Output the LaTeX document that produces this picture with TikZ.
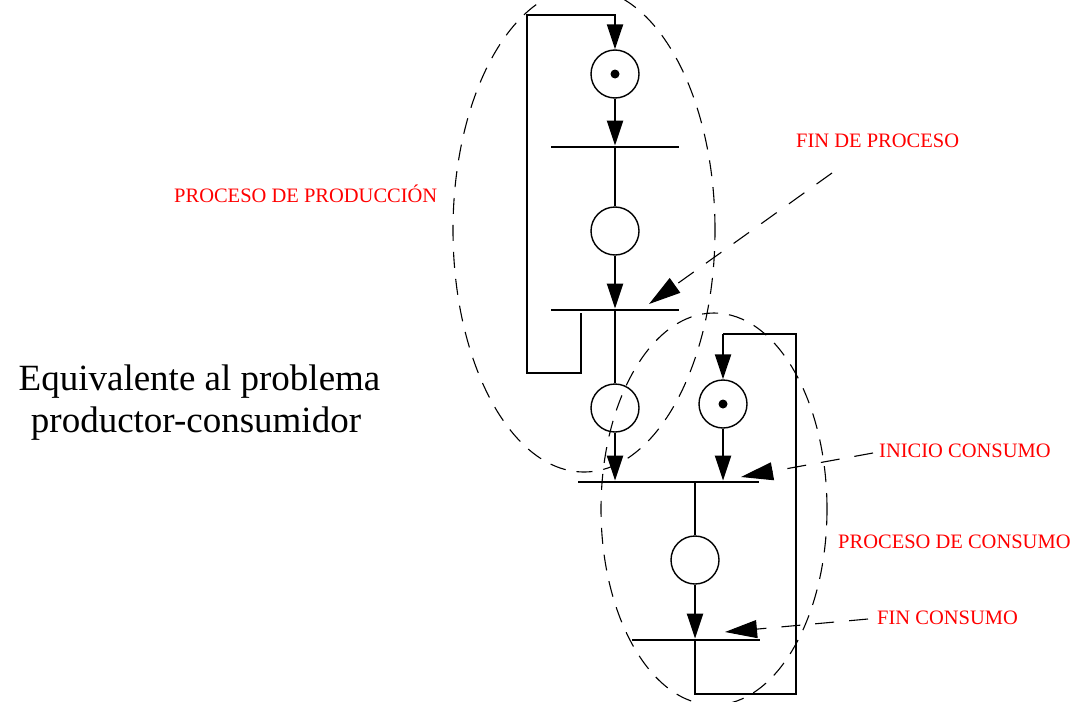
\documentclass[tikz,border=0pt]{standalone}
\usepackage{fontspec}
\setmainfont{Liberation Serif}
\usetikzlibrary{arrows.meta}
\tikzset{
  place/.style={circle, draw, line width=1.4pt, minimum size=48pt, inner sep=0pt},
  token/.style={circle, fill, minimum size=9pt, inner sep=0pt},
  tbar/.style={rectangle, fill, minimum height=2.4pt, inner sep=0pt},
  arcline/.style={line width=2.2pt},
  arc/.style={line width=2.2pt, -{Triangle[length=25pt,width=16pt]}},
  region/.style={line width=1.1pt, dash pattern=on 16pt off 11pt},
  pointer/.style={line width=1.1pt, dash pattern=on 19pt off 15pt, -{Triangle[length=32pt,width=18pt]}},
  lbl/.style={text=red, font=\fontsize{20.5pt}{24pt}\selectfont, inner sep=0pt, anchor=base west},
  big/.style={font=\fontsize{37pt}{42pt}\selectfont, inner sep=0pt, anchor=base}
}
\begin{document}
\begin{tikzpicture}[x=1pt, y=-1pt]
\useasboundingbox (0,0) rectangle (1083,701);
% places
\node[place] (p1) at (615,74) {};
\node[token] at (p1) {};
\node[place] (p2) at (615,231) {};
\node[place] (p3) at (615,408) {};
\node[place] (p4) at (723,404) {};
\node[token] at (p4) {};
\node[place] (p5) at (695,560) {};
% transitions
\node[tbar, minimum width=128pt] (t1) at (615,147) {};
\node[tbar, minimum width=128pt] (t2) at (615,310) {};
\node[tbar, minimum width=181pt] (t3) at (668.5,482) {};
\node[tbar, minimum width=128pt] (t4) at (696,640) {};
% loop coordinates
\coordinate (a1) at (581,313);
\coordinate (a2) at (581,373);
\coordinate (a3) at (527,373);
\coordinate (a4) at (527,15);
\coordinate (a5) at (615,15);
\coordinate (b1) at (695,694);
\coordinate (b2) at (796,694);
\coordinate (b3) at (796,334);
\coordinate (b4) at (723,334);
% arcs
\draw[arc] (a1) -- (a2) -- (a3) -- (a4) -- (a5) -- (p1.north);
\draw[arc] (p1) -- (t1);
\draw[arcline] (t1) -- (p2);
\draw[arc] (p2) -- (t2);
\draw[arcline] (t2) -- (p3);
\draw[arc] (p3) -- (p3 |- t3.north);
\draw[arc] (p4) -- (p4 |- t3.north);
\draw[arcline] (p5 |- t3) -- (p5);
\draw[arc] (p5) -- (p5 |- t4.north);
\draw[arcline] (p5 |- t4) -- (b1) -- (b2) -- (b3) -- (b4);
\draw[arc] (b4) -- (p4.north);
% regions
\draw[region] (584,230) ellipse [x radius=131pt, y radius=242pt];
\draw[region] (714,509) ellipse [x radius=113pt, y radius=196pt];
% pointers
\coordinate (s1) at (832,173);
\coordinate (e1) at (649,304);
\coordinate (s2) at (873,453);
\coordinate (e2) at (741,477);
\coordinate (s3) at (868,619);
\coordinate (e3) at (725,632);
\draw[pointer] (s1) -- (e1);
\draw[pointer] (s2) -- (e2);
\draw[pointer] (s3) -- (e3);
% labels
\node[lbl] (l1) at (796,147) {FIN DE PROCESO};
\node[lbl] (l2) at (174,202) {PROCESO DE PRODUCCIÓN};
\node[lbl] (l3) at (879,457) {INICIO CONSUMO};
\node[lbl] (l4) at (838,548) {PROCESO DE CONSUMO};
\node[lbl] (l5) at (877,624) {FIN CONSUMO};
\node[big] (m1) at (199.5,390) {Equivalente al problema};
\node[big] (m2) at (196,432) {productor-consumidor};
\end{tikzpicture}
\end{document}
